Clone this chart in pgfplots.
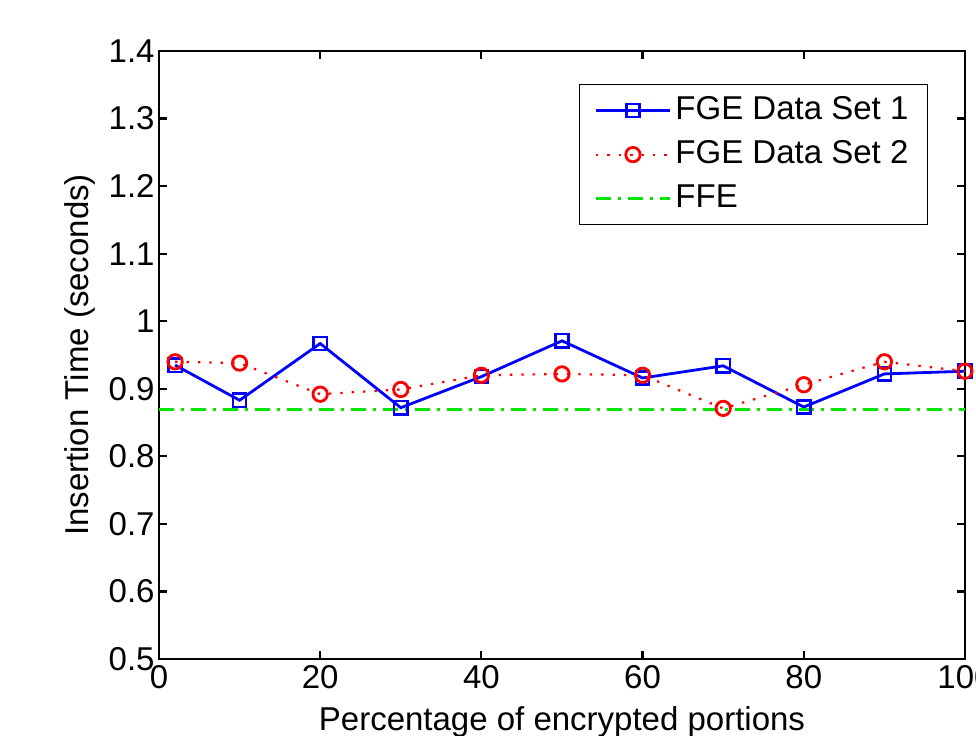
\documentclass[border=0pt]{standalone}
\usepackage{pgfplots}
\pgfplotsset{compat=1.18}
\usepackage{fontspec}
\setmainfont{Liberation Sans}
\definecolor{mblue}{RGB}{0,0,255}
\definecolor{mred}{RGB}{255,0,0}
\definecolor{mgreen}{RGB}{0,230,0}
\begin{document}
\fontsize{16.5}{19.8}\selectfont
\begin{tikzpicture}
\begin{axis}[
  scale only axis, width=403pt, height=304pt,
  at={(0pt,0pt)}, anchor=south west,
  xmin=0, xmax=100, ymin=0.5, ymax=1.4,
  xtick={0,20,40,60,80,100},
  ytick={0.5,0.6,0.7,0.8,0.9,1,1.1,1.2,1.3,1.4},
  yticklabels={0.5,0.6,0.7,0.8,0.9,1,1.1,1.2,1.3,1.4},
  tick align=inside, major tick length=4pt,
  axis line style={line width=1.2pt},
  every tick/.style={black, line width=1.1pt},
  /pgf/number format/assume math mode=true,
  ticklabel style={font=\fontsize{16.5}{19.8}\selectfont},
  yticklabel style={inner sep=2pt},
  xticklabel style={inner sep=3pt},
  xlabel={Percentage of encrypted portions},
  ylabel={Insertion Time (seconds)},
  xlabel style={at={(axis description cs:0.5,-0.1035)}, anchor=center},
  ylabel style={at={(axis description cs:-0.098,0.5)}, anchor=center},
  label style={font=\fontsize{16.5}{19.8}\selectfont},
  legend style={at={(axis description cs:1,1)}, anchor=north east,
    xshift=-18.5pt, yshift=-16.5pt, draw=black, line width=0.6pt,
    font=\fontsize{16.5}{19.8}\selectfont, inner xsep=7.5pt, inner ysep=4pt,
    row sep=4pt},
  legend cell align=left,
  legend image code/.code={%
    \draw[mark repeat=2,mark phase=2,#1] plot coordinates {(0pt,0pt) (18.5pt,0pt) (37pt,0pt)};},
]
\addplot[mblue, line width=1.4pt, mark=square, mark size=3.3pt, mark options={solid, line width=1.2pt}]
coordinates {(2,0.935) (10,0.883) (20,0.967) (30,0.872) (40,0.918) (50,0.971) (60,0.916) (70,0.934) (80,0.873) (90,0.922) (100,0.926)};
\addlegendentry{FGE Data Set 1}
\addplot[mred, line width=1.1pt, dash pattern=on 1.2pt off 4.5pt, mark=o, mark size=3.6pt, mark options={solid, line width=1.4pt}]
coordinates {(2,0.940) (10,0.938) (20,0.892) (30,0.899) (40,0.920) (50,0.922) (60,0.920) (70,0.871) (80,0.906) (90,0.940) (100,0.926)};
\addlegendentry{FGE Data Set 2}
\addplot[mgreen, line width=1.5pt, dash pattern=on 7.5pt off 3.5pt on 1.5pt off 3.5pt]
coordinates {(0,0.870) (100,0.870)};
\addlegendentry{FFE}
\end{axis}
\pgfresetboundingbox
\path[use as bounding box] (-79.5pt,-38pt) rectangle (408.5pt,329.5pt);
\end{tikzpicture}
\end{document}
